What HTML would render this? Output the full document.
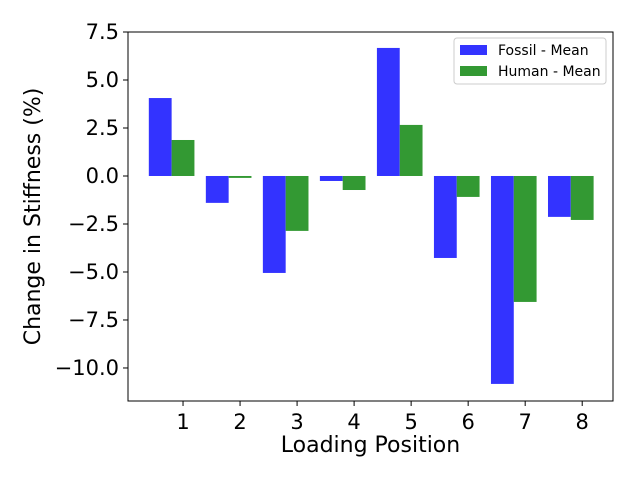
<!DOCTYPE html>
<html><head><meta charset="utf-8"><style>
body{margin:0;background:#fff}
svg{display:block;font-family:"DejaVu Sans","Liberation Sans",sans-serif}
</style></head><body>
<svg id="chart" width="640" height="480"></svg>
<script>
const categories=[1,2,3,4,5,6,7,8];
const fossilMean=[4.06,-1.4,-5.05,-0.26,6.67,-4.27,-10.83,-2.13];
const humanMean=[1.875,-0.1,-2.86,-0.73,2.66,-1.09,-6.56,-2.29];
const yTicks=[7.5,5.0,2.5,0.0,-2.5,-5.0,-7.5,-10.0];
const NS="http://www.w3.org/2000/svg";
const svg=document.getElementById('chart');
const L=128,R=613,T=32,B=401;
const xMin=0.035,xMax=8.54,yMin=-11.72,yMax=7.5;
const X=v=>L+(v-xMin)/(xMax-xMin)*(R-L);
const Y=v=>T+(yMax-v)/(yMax-yMin)*(B-T);
function el(tag,attrs,txt){const e=document.createElementNS(NS,tag);for(const k in attrs)e.setAttribute(k,attrs[k]);if(txt!==undefined)e.textContent=txt;svg.appendChild(e);return e;}
categories.forEach((c,i)=>{
  let v=fossilMean[i];
  let r=el('rect',{x:X(c-0.6),y:Y(Math.max(v,0)),width:X(c-0.2)-X(c-0.6),height:Math.abs(Y(v)-Y(0)),fill:'#3333ff'});
  
  
  v=humanMean[i];
  r=el('rect',{x:X(c-0.2),y:Y(Math.max(v,0)),width:X(c+0.2)-X(c-0.2),height:Math.abs(Y(v)-Y(0)),fill:'#339933'});
  
  
  el('line',{x1:X(c),x2:X(c),y1:B,y2:B+5,stroke:'#000'});
  const lb=el('text',{x:X(c),y:B+28,'text-anchor':'middle','font-size':21},String(c));
  
  
});
yTicks.forEach(v=>{
  el('line',{x1:L-5,x2:L,y1:Y(v),y2:Y(v),stroke:'#000'});
  const lb=el('text',{x:L-9,y:Y(v)+7,'text-anchor':'end','font-size':21},(v<0?'\u2212':'')+Math.abs(v).toFixed(1));
  
  
});
el('rect',{x:L,y:T,width:R-L,height:B-T,fill:'none',stroke:'#000','stroke-width':1});
const xt=el('text',{x:(L+R)/2,y:452,'text-anchor':'middle','font-size':22},'Loading Position');


const yt=el('text',{x:0,y:0,'text-anchor':'middle','font-size':22,transform:`translate(40,${(T+B)/2}) rotate(-90)`},'Change in Stiffness (%)');


const lg=el('rect',{x:454,y:38,width:152,height:46,rx:3,fill:'#fff',stroke:'#ccc'});


el('rect',{x:460,y:45,width:27,height:10,fill:'#3333ff'});
const l1=el('text',{x:498,y:55,'font-size':14},'Fossil - Mean');


el('rect',{x:460,y:66,width:27,height:10,fill:'#339933'});
const l2=el('text',{x:498,y:76,'font-size':14},'Human - Mean');


</script>
</body></html>
